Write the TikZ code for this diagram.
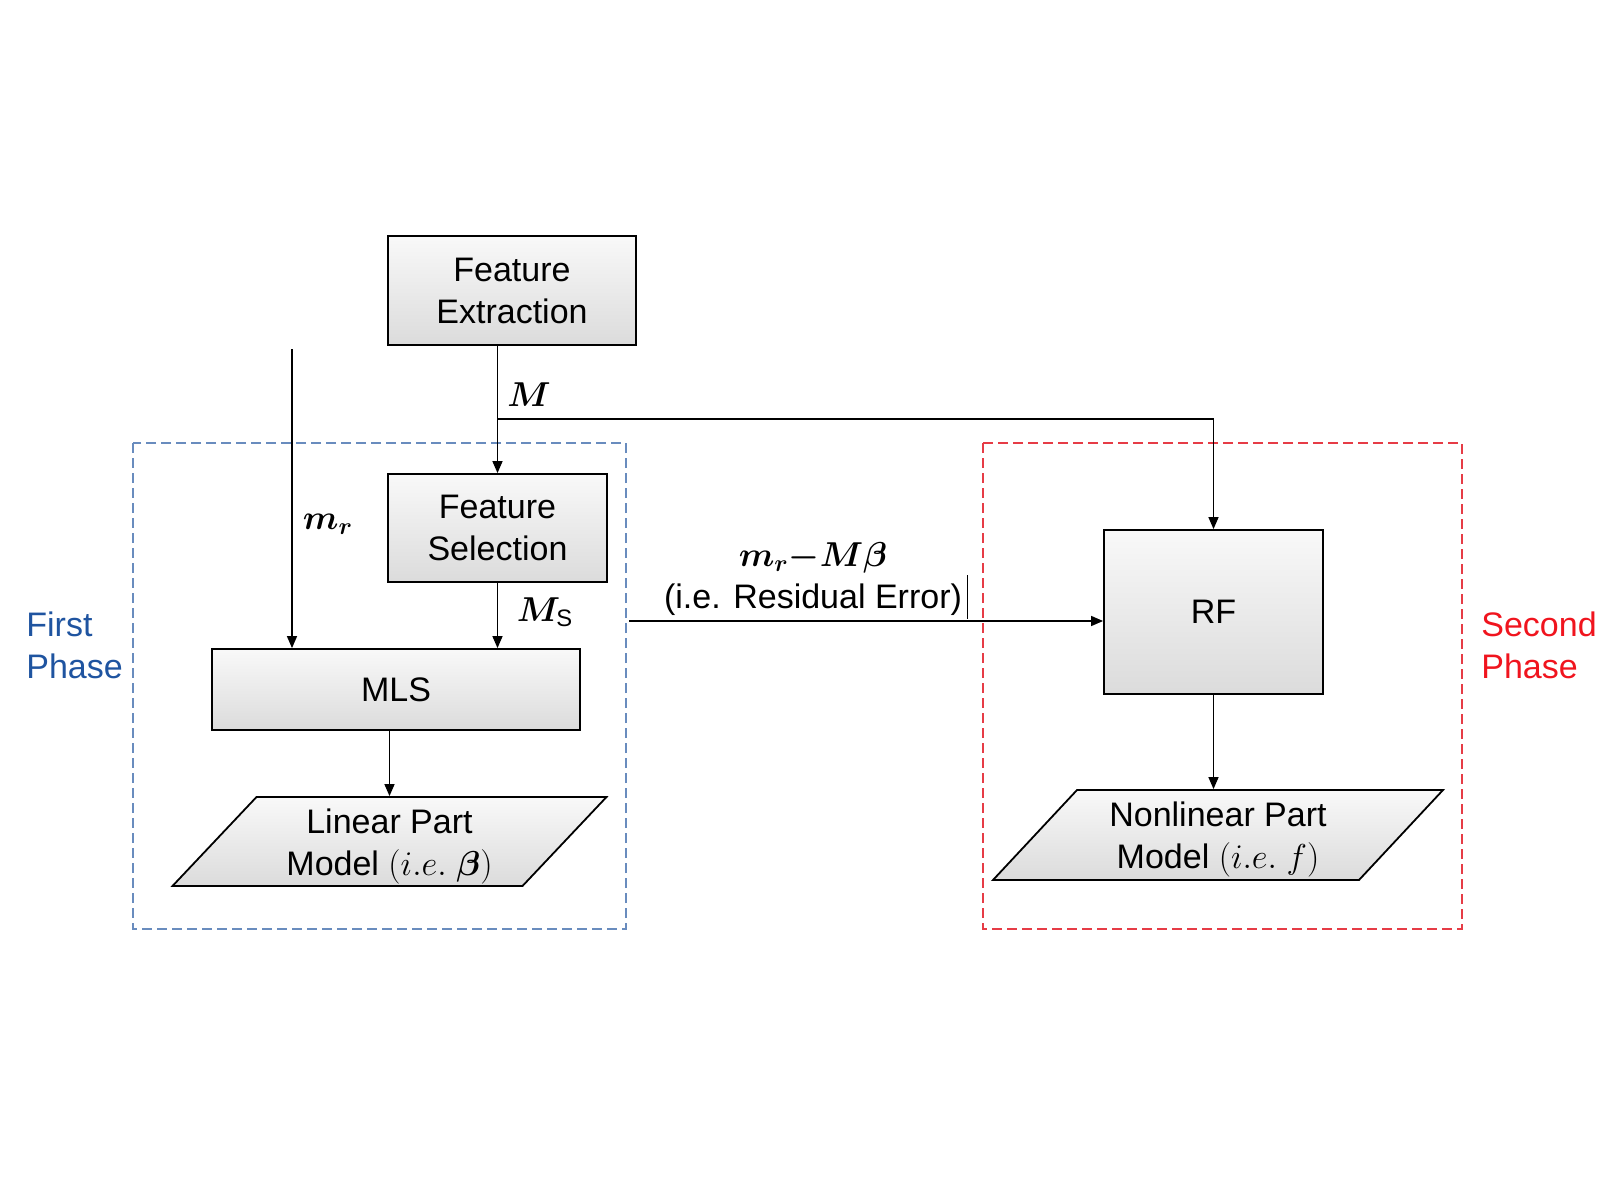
\documentclass[tikz,border=0pt]{standalone}
\usepackage{amsmath}
\usepackage{bm}
\usepackage{fontspec}
\setmainfont{Liberation Sans}
\usetikzlibrary{arrows.meta, positioning, shapes.geometric}
\definecolor{phaseblue}{RGB}{31,84,160}
\definecolor{boxblue}{RGB}{105,140,190}
\definecolor{phasered}{RGB}{240,20,30}
\definecolor{boxred}{RGB}{230,60,70}

\begin{document}
\begin{tikzpicture}[x=0.5pt,y=-0.5pt,line width=0.7pt,
    >={Triangle[length=6pt,width=5pt]},
    font=\fontsize{17}{21}\selectfont]
  \tikzstyle{block}=[draw,line width=0.9pt,top color=gray!5,bottom color=gray!28,align=center,inner sep=0pt]
  \tikzstyle{model}=[block,trapezium,trapezium left angle=45,trapezium right angle=135,trapezium stretches body]
  \tikzstyle{phase}=[line width=0.6pt,dash pattern=on 5pt off 2.5pt]

  \useasboundingbox (0,0) rectangle (1618,1189);

  % phase frames
  \draw[phase,boxblue] (133,443) rectangle (626,929);
  \draw[phase,boxred]  (983,443) rectangle (1462,929);

  \node[block,minimum width=124pt,minimum height=54.5pt]  (fe)     at (512,290.5)   {Feature\\Extraction};
  \node[block,minimum width=109.5pt,minimum height=54pt]  (fs)     at (497.5,528)   {Feature\\Selection};
  \node[block,minimum width=184pt,minimum height=40.5pt]  (mls)    at (396,689.5)   {MLS};
  \node[block,minimum width=109.5pt,minimum height=82pt]  (rf)     at (1213.5,612)  {RF};
  \node[model,minimum width=217pt,minimum height=44.5pt]  (lin)    at (389.5,841.5) {\raisebox{-2.5pt}[\height][\depth]{\begin{tabular}{@{}c@{}}Linear Part\\Model $(i.e.\;\bm{\beta})$\end{tabular}}};
  \node[model,minimum width=225pt,minimum height=45pt]    (nonlin) at (1218,835)    {\raisebox{-2pt}[\height][\depth]{\begin{tabular}{@{}c@{}}Nonlinear Part\\Model $(i.e.\;f)$\end{tabular}}};

  \node[text=phaseblue,align=left,anchor=west] (first)  at (19,645)   {First\\Phase};
  \node[text=phasered,align=left,anchor=west]  (second) at (1474,645) {Second\\Phase};

  \coordinate (mr)   at (292,349);
  \coordinate (mlev) at (0,419);
  \coordinate (res)  at (629,621);

  \path[->]
  (fe.south -| fs.north)  edge (fs.north)
  (mr)                    edge (mr |- mls.north)
  (fs.south)              edge (fs.south |- mls.north)
  (lin.center |- mls.south) edge (lin.center |- lin.north)
  (rf.south)              edge (rf.south |- nonlin.north)
  (res)                   edge (res -| rf.west)
  ;
  \draw[->] (fs.north |- mlev) -| (rf.north);

  \node (mlab)  at (529,395) {$\bm{M}$};
  \node (mrlab) at (328,524) {$\bm{m}_{\bm{r}}$};
  \node (mslab) at (545,612) {$\bm{M}_{\mathrm{S}}$};
  \node[align=center] (reslab) at (813,579) {$\bm{m}_{\bm{r}}{\bm{-}}\bm{M}\bm{\beta}$\\(i.e. Residual Error)};
  \draw[line width=0.4pt] (967,575) -- (967,619);
\end{tikzpicture}
\end{document}
